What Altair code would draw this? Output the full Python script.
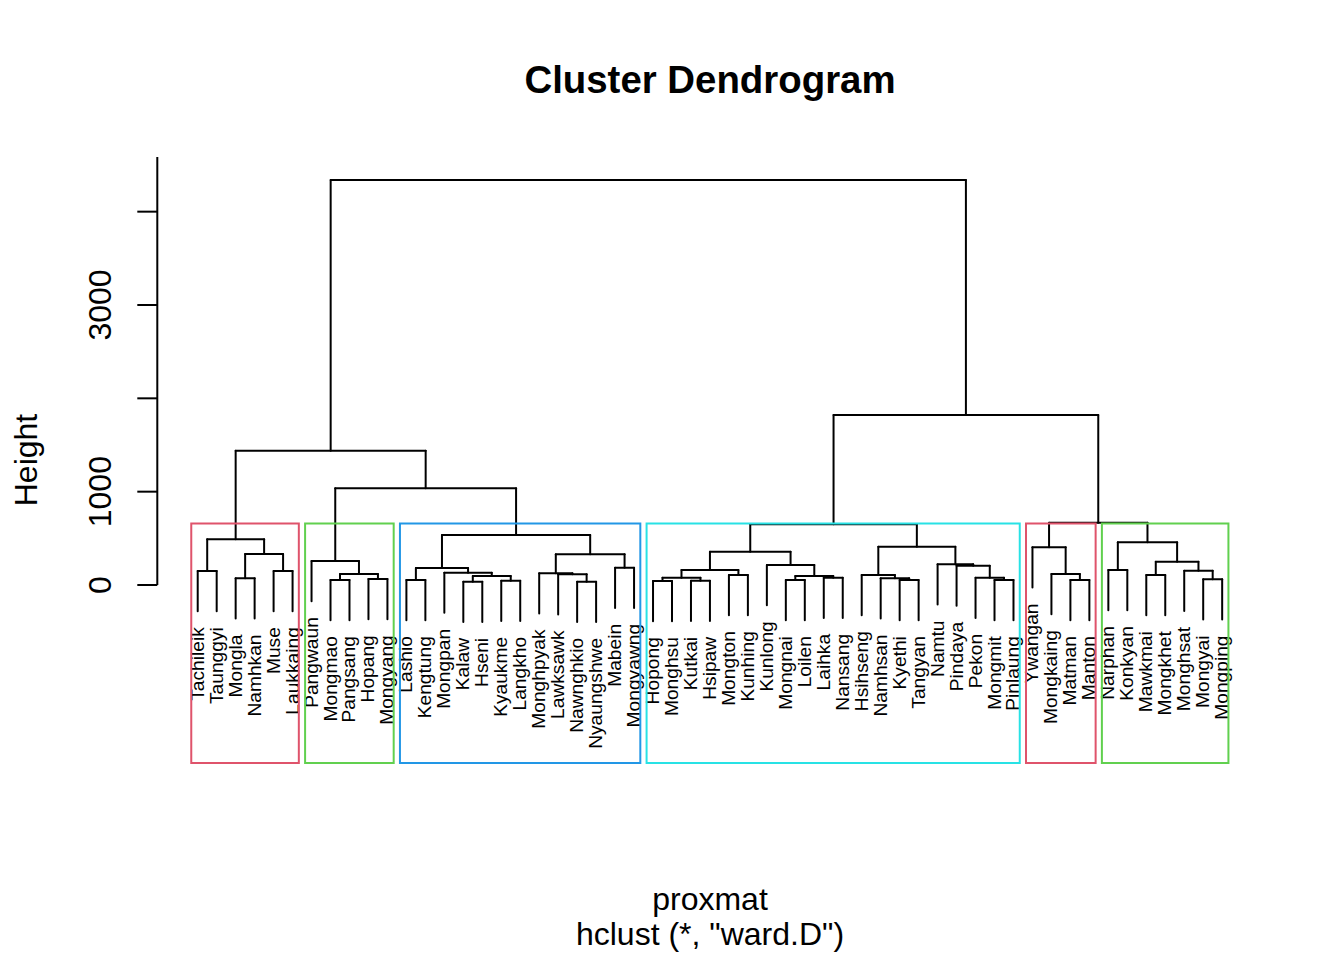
import altair as alt
import pandas as pd

# ---------------- data ----------------
labels = ["Tachileik", "Taunggyi", "Mongla", "Namhkan", "Muse", "Laukkaing",
          "Pangwaun", "Mongmao", "Pangsang", "Hopang", "Mongyang",
          "Lashio", "Kengtung", "Mongpan", "Kalaw", "Hseni", "Kyaukme", "Langkho",
          "Monghpyak", "Lawksawk", "Nawnghkio", "Nyaungshwe", "Mabein", "Mongyawng",
          "Hopong", "Monghsu", "Kutkai", "Hsipaw", "Mongton", "Kunhing", "Kunlong",
          "Mongnai", "Loilen", "Laihka", "Nansang", "Hsihseng", "Namhsan", "Kyethi",
          "Tangyan", "Namtu", "Pindaya", "Pekon", "Mongmit", "Pinlaung",
          "Ywangan", "Mongkaing", "Matman", "Manton",
          "Narphan", "Konkyan", "Mawkmai", "Mongkhet", "Monghsat", "Mongyai", "Mongping"]

# merges: leaf names or "mK" (K-th merge, 1-based)
merge_left = ["Tachileik", "Mongla", "Muse", "m2", "m1",
              "Mongmao", "Hopang", "m6", "Pangwaun",
              "Lashio", "Kalaw", "Kyaukme", "m11", "Mongpan", "m10",
              "Nawnghkio", "Lawksawk", "Monghpyak", "Mabein", "m18", "m15",
              "m9", "m5",
              "Hopong", "Kutkai", "m24", "Mongton", "m26", "Mongnai", "Laihka", "m29",
              "Kunlong", "m28", "Kyethi", "Namhsan", "Hsihseng", "Mongmit", "Pekon",
              "Pindaya", "Namtu", "m36", "m33",
              "Matman", "Mongkaing", "Ywangan",
              "Narphan", "Mawkmai", "Mongyai", "Monghsat", "m47", "m46",
              "m45", "m42", "m23"]
merge_right = ["Taunggyi", "Namhkan", "Laukkaing", "m3", "m4",
               "Pangsang", "Mongyang", "m7", "m8",
               "Kengtung", "Hseni", "Langkho", "m12", "m13", "m14",
               "Nyaungshwe", "m16", "m17", "Mongyawng", "m19", "m20",
               "m21", "m22",
               "Monghsu", "Hsipaw", "m25", "Kunhing", "m27", "Loilen", "Nansang", "m30",
               "m31", "m32", "Tangyan", "m34", "m35", "Pinlaung", "m37",
               "m38", "m39", "m40", "m41",
               "Manton", "m43", "m44",
               "Konkyan", "Mongkhet", "Mongping", "m48", "m49", "m50",
               "m51", "m52", "m53"]
merge_height = [150, 72, 150, 332, 490,
                54, 64, 118, 257,
                54, 35, 46, 96, 132, 182,
                35, 115, 125, 185, 329, 536,
                1036, 1439,
                43, 46, 78, 107, 161, 54, 78, 96,
                214, 357, 54, 72, 107, 54, 78,
                207, 222, 410, 650,
                54, 118, 404,
                161, 107, 61, 153, 250, 457,
                668, 1821, 4339]

cluster_first = ["Tachileik", "Pangwaun", "Lashio", "Hopong", "Ywangan", "Narphan"]
cluster_last = ["Laukkaing", "Mongyang", "Mongyawng", "Pinlaung", "Manton", "Mongping"]
cluster_colors = ["#DF536B", "#61D04F", "#2297E6", "#28E2E5", "#DF536B", "#61D04F"]

y_ticks = [0, 1000, 2000, 3000, 4000]
y_tick_labels = ["0", "1000", "", "3000", ""]

region_ymin, region_ymax = -1907, 4586   # plot region (R usr) in height units
hang_frac = 0.1

# ---------------- tree geometry ----------------
pos = {n: i + 1 for i, n in enumerate(labels)}
node_x, node_h = {}, {}
hang = hang_frac * (max(merge_height) - min(merge_height))
segs = []
leaf_bottom = {}
for k, (l, r, h) in enumerate(zip(merge_left, merge_right, merge_height), start=1):
    xs = []
    for c in (l, r):
        if c in pos:
            cx = pos[c]
            ch = h - hang
            leaf_bottom[c] = ch
        else:
            cx = node_x[c]
            ch = node_h[c]
        xs.append(cx)
        segs.append({"x": cx, "x2": cx, "y": h, "y2": ch})
    segs.append({"x": xs[0], "x2": xs[1], "y": h, "y2": h})
    node_x[f"m{k}"] = (xs[0] + xs[1]) / 2
    node_h[f"m{k}"] = h

seg_df = pd.DataFrame(segs)
leaf_df = pd.DataFrame({"label": labels,
                        "x": [pos[n] for n in labels],
                        "y": [leaf_bottom[n] for n in labels]})

heights_desc = sorted(merge_height, reverse=True)
k = len(cluster_first)
box_top = (heights_desc[k - 2] + heights_desc[k - 1]) / 2
box_df = pd.DataFrame({
    "grp": [str(i) for i in range(k)],
    "x": [pos[a] - 0.34 for a in cluster_first],
    "x2": [pos[b] + 0.33 for b in cluster_last],
    "y": [region_ymin] * k,
    "y2": [box_top] * k,
})

tick_df = pd.DataFrame({"v": y_ticks, "lab": y_tick_labels})

# ---------------- scales ----------------
W, H = 1328, 944
xs_ = alt.Scale(domain=[-9, 61], nice=False, zero=False)
ys_ = alt.Scale(domain=[-3932, 6182], nice=False, zero=False)
FONT = "Liberation Sans"

lines = alt.Chart(seg_df).mark_rule(color="black", strokeWidth=2, strokeCap="round").encode(
    x=alt.X("x:Q", scale=xs_, axis=None), x2="x2:Q",
    y=alt.Y("y:Q", scale=ys_, axis=None), y2="y2:Q")

leaf_text = alt.Chart(leaf_df).mark_text(
    angle=270, align="right", baseline="middle", dx=-16, fontSize=19.2, font=FONT, color="black"
).encode(x=alt.X("x:Q", scale=xs_, axis=None), y=alt.Y("y:Q", scale=ys_, axis=None), text="label:N")

boxes = alt.Chart(box_df).mark_rect(filled=False, strokeWidth=2).encode(
    x=alt.X("x:Q", scale=xs_, axis=None), x2="x2:Q",
    y=alt.Y("y:Q", scale=ys_, axis=None), y2="y2:Q",
    color=alt.Color("grp:N", scale=alt.Scale(domain=[str(i) for i in range(k)], range=cluster_colors), legend=None))

axis_line = alt.Chart(pd.DataFrame({"a": [0], "b": [region_ymax]})).mark_rule(
    color="black", strokeWidth=2).encode(
    x=alt.value(149.3), y=alt.Y("a:Q", scale=ys_, axis=None), y2="b:Q")

ticks = alt.Chart(tick_df).mark_rule(color="black", strokeWidth=2).encode(
    x=alt.value(149.3), x2=alt.value(129.3), y=alt.Y("v:Q", scale=ys_, axis=None))

tick_labels = alt.Chart(tick_df).mark_text(
    angle=270, align="center", baseline="alphabetic", fontSize=32, font=FONT, color="black"
).encode(x=alt.value(103), y=alt.Y("v:Q", scale=ys_, axis=None), text="lab:N")

def label(txt, x, y, size=32, weight="normal", angle=0):
    return alt.Chart(pd.DataFrame({"t": [txt]})).mark_text(
        fontSize=size, fontWeight=weight, font=FONT, align="center", baseline="alphabetic",
        angle=angle, color="black").encode(x=alt.value(x), y=alt.value(y), text="t:N")

title = label("Cluster Dendrogram", 702, 84.5, size=38.4, weight="bold")
xlab = label("proxmat", 702, 901.5)
sub = label('hclust (*, "ward.D")', 702, 936.5)
ylab = label("Height", 28.5, 452, angle=270)

chart = alt.layer(lines, leaf_text, boxes, axis_line, ticks, tick_labels, title, xlab, sub, ylab).properties(
    width=W, height=H, autosize=alt.AutoSizeParams(type="none"), padding=0
).configure_view(stroke=None)

chart.save("out.html", embed_options={"renderer": "svg", "actions": False})
